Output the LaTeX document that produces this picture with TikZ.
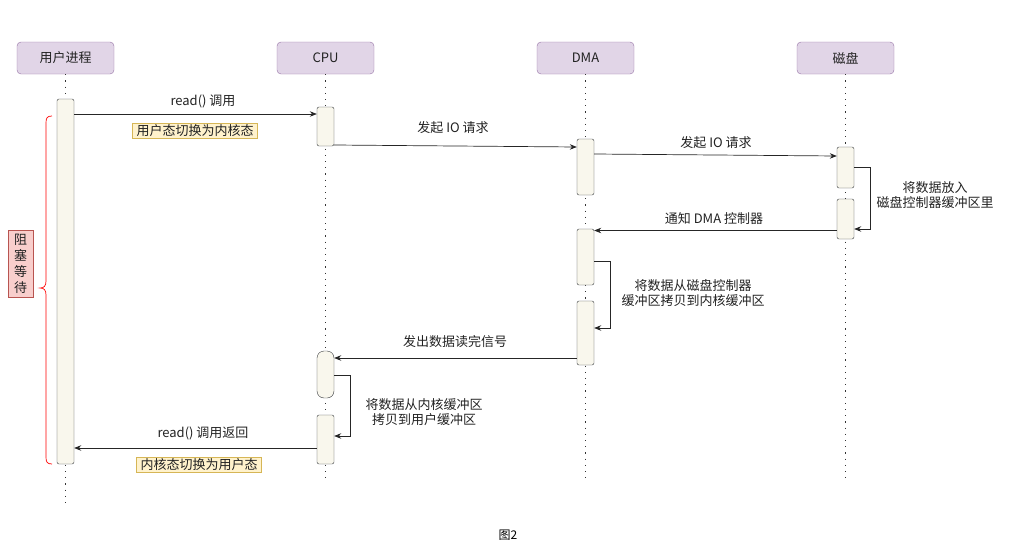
\documentclass[tikz,border=0pt]{standalone}
\usepackage{fontspec}
\setmainfont{Noto Sans CJK SC}
\usetikzlibrary{arrows.meta}
\definecolor{hdrfill}{HTML}{E1D5E7}
\definecolor{hdrdraw}{HTML}{9673A6}
\definecolor{actfill}{HTML}{F9F7ED}
\definecolor{actdraw}{HTML}{36393D}
\definecolor{yfill}{HTML}{FFF2CC}
\definecolor{ydraw}{HTML}{D6B656}
\definecolor{rfill}{HTML}{F8CECC}
\definecolor{rdraw}{HTML}{B85450}
\definecolor{txt}{HTML}{222222}
\begin{document}
\begin{tikzpicture}[x=1pt,y=-1pt,
  every node/.style={font=\fontsize{13}{15.5}\selectfont, text=txt},
  hdr/.style={draw=hdrdraw, fill=hdrfill, rounded corners=4pt, minimum width=97pt, minimum height=32pt, inner sep=0pt},
  act/.style={draw=actdraw, fill=actfill, rounded corners=2pt, minimum width=17pt, inner sep=0pt},
  life/.style={draw=black!80, line width=0.9pt, dash pattern=on 1.2pt off 5pt},
  msg/.style={draw=black!85, line width=0.7pt, -{Stealth[length=7pt,width=5.5pt]}},
  lbl/.style={inner sep=1pt},
  ybox/.style={draw=ydraw, fill=yfill, inner xsep=4pt, inner ysep=1.5pt},
]
\useasboundingbox (0,0) rectangle (1010,557);

% headers
\node[hdr] (h1) at (65.5,58) {用户进程};
\node[hdr] (h2) at (325.5,58) {CPU};
\node[hdr] (h3) at (585.5,58) {DMA};
\node[hdr] (h4) at (845.5,58) {磁盘};

% lifeline ends
\coordinate (e1) at (65.5,505);
\coordinate (e2) at (325.5,478);
\coordinate (e3) at (585.5,478);
\coordinate (e4) at (845.5,478);
\draw[life] (h1.south) -- (e1);
\draw[life] (h2.south) -- (e2);
\draw[life] (h3.south) -- (e3);
\draw[life] (h4.south) -- (e4);

% activation bars
\node[act, minimum height=365pt] (u1) at (65.5,281.5) {};
\node[act, minimum height=39pt] (c1) at (325.5,126.5) {};
\node[act, minimum height=47pt, rounded corners=7pt] (c2) at (325.5,374.5) {};
\node[act, minimum height=49pt] (c3) at (325.5,439.5) {};
\node[act, minimum height=56pt] (d1) at (585.5,167) {};
\node[act, minimum height=56pt] (d2) at (585.5,257) {};
\node[act, minimum height=64pt] (d3) at (585.5,333) {};
\node[act, minimum height=41pt] (k1) at (845.5,167.5) {};
\node[act, minimum height=40pt] (k2) at (845.5,219) {};

% y levels
\coordinate (y1) at (0,114);
\coordinate (y2a) at (0,145);
\coordinate (y2b) at (0,147);
\coordinate (y3a) at (0,154);
\coordinate (y3b) at (0,156);
\coordinate (y4a) at (0,167);
\coordinate (y4b) at (0,229);
\coordinate (y5) at (0,230.5);
\coordinate (y6a) at (0,261);
\coordinate (y6b) at (0,328);
\coordinate (y7) at (0,358);
\coordinate (y8a) at (0,375);
\coordinate (y8b) at (0,436);
\coordinate (y9) at (0,448);

% messages
\draw[msg] (u1.east |- y1) -- (c1.west |- y1);
\node[lbl] (t1) at (203,101) {read() 调用};
\node[ybox] (b1) at (195,130.5) {用户态切换为内核态};

\draw[msg] (c1.east |- y2a) -- (d1.west |- y2b);
\node[lbl] (t2) at (453,128) {发起 IO 请求};

\draw[msg] (d1.east |- y3a) -- (k1.west |- y3b);
\node[lbl] (t3) at (716,143) {发起 IO 请求};

\draw[msg] (k1.east |- y4a) -- ++(16,0) |- (k2.east |- y4b);
\node[lbl, align=center] (t4) at (935,195) {将数据放入\\磁盘控制器缓冲区里};

\draw[msg] (k2.west |- y5) -- (d2.east |- y5);
\node[lbl] (t5) at (714,219) {通知 DMA 控制器};

\draw[msg] (d2.east |- y6a) -- ++(16,0) |- (d3.east |- y6b);
\node[lbl, align=center] (t6) at (693,293) {将数据从磁盘控制器\\缓冲区拷贝到内核缓冲区};

\draw[msg] (d3.west |- y7) -- (c2.east |- y7);
\node[lbl] (t7) at (455,342) {发出数据读完信号};

\draw[msg] (c2.east |- y8a) -- ++(16,0) |- (c3.east |- y8b);
\node[lbl, align=center] (t8) at (424,412) {将数据从内核缓冲区\\拷贝到用户缓冲区};

\draw[msg] (c3.west |- y9) -- (u1.east |- y9);
\node[lbl] (t9) at (203,433) {read() 调用返回};
\node[ybox] (b2) at (199,465) {内核态切换为用户态};

% brace
\draw[red, line width=0.7pt] (52,116) .. controls (47,116) and (46,118) .. (46,123) -- (46,281)
  .. controls (46,286) and (44,288) .. (40,288) .. controls (44,288) and (46,290) .. (46,295)
  -- (46,457) .. controls (46,462) and (47,464) .. (52,464);
\node[draw=rdraw, fill=rfill, minimum width=25pt, minimum height=67pt, inner sep=0pt, align=center,
  font=\fontsize{13}{16}\selectfont] (blk) at (20.5,263.5) {阻\\塞\\等\\待};

% caption
\node[font=\fontsize{12}{14}\selectfont, text=black] (cap) at (508,535) {图2};
\end{tikzpicture}
\end{document}
